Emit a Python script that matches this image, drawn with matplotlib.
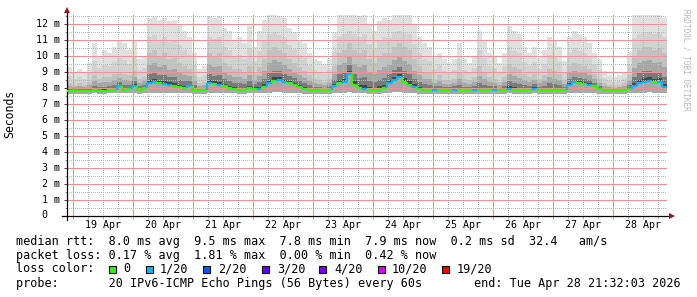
import numpy as np
import matplotlib
matplotlib.use("Agg")
import matplotlib.pyplot as plt
from matplotlib.patches import Rectangle

# ---------------- data (2-hour bins, hours relative to 19 Apr 00:00) ----------------
bin_start = -2.47
bin_hours = 2.0

median_ms = [7.82, 7.82, 7.83, 7.82, 7.83, 7.85, 7.83, 7.84, 7.85, 7.86,
             8.10, 7.90, 7.95, 8.15, 7.90, 8.00, 8.30, 8.35, 8.30, 8.25,
             8.20, 8.15, 8.05, 8.00, 8.10, 7.90, 7.85, 7.85, 8.30, 8.25,
             8.20, 8.10, 8.00, 7.95, 7.90, 7.90, 8.00, 7.95, 7.95, 8.05,
             8.30, 8.45, 8.50, 8.35, 8.30, 8.20, 8.05, 7.95, 7.90, 7.85,
             7.85, 7.85, 7.90, 8.10, 8.30, 8.35, 8.90, 8.20, 8.00, 7.95,
             7.90, 7.85, 7.90, 8.00, 8.30, 8.50, 8.70, 8.40, 8.20, 8.05,
             7.95, 7.90, 7.85, 7.90, 7.85, 7.85, 7.85, 7.90, 7.85, 7.85,
             7.85, 7.90, 7.85, 7.85, 7.85, 7.90, 7.85, 7.85, 7.95, 7.90,
             7.85, 7.85, 7.85, 7.95, 7.85, 7.85, 7.90, 7.85, 7.85, 7.90,
             8.20, 8.35, 8.30, 8.25, 8.20, 8.10, 7.95, 7.85, 7.85, 7.85,
             7.85, 7.85, 7.95, 8.15, 8.30, 8.40, 8.45, 8.35, 8.40, 8.05]

loss_idx = [0, 0, 0, 0, 0, 0, 0, 0, 0, 0,
            1, 0, 0, 1, 0, 0, 1, 1, 0, 1,
            1, 0, 0, 0, 1, 0, 0, 0, 1, 0,
            1, 0, 0, 0, 0, 0, 0, 0, 1, 0,
            1, 0, 1, 1, 0, 0, 0, 0, 0, 0,
            0, 0, 0, 1, 0, 1, 1, 0, 0, 1,
            0, 0, 0, 0, 1, 1, 1, 0, 0, 1,
            0, 0, 0, 1, 0, 0, 0, 1, 0, 0,
            0, 1, 0, 0, 0, 1, 0, 0, 1, 0,
            0, 0, 0, 1, 0, 0, 0, 0, 0, 0,
            1, 1, 0, 0, 1, 0, 0, 0, 0, 0,
            0, 0, 0, 1, 1, 1, 1, 0, 1, 1]

smoke_min = [7.64, 7.65, 7.65, 7.64, 7.65, 7.66, 7.65, 7.65, 7.66, 7.66,
             7.68, 7.66, 7.66, 7.68, 7.65, 7.66, 7.70, 7.72, 7.70, 7.70,
             7.70, 7.68, 7.67, 7.66, 7.68, 7.65, 7.64, 7.65, 7.70, 7.70,
             7.70, 7.68, 7.66, 7.66, 7.65, 7.65, 7.66, 7.66, 7.66, 7.68,
             7.72, 7.74, 7.75, 7.72, 7.70, 7.68, 7.66, 7.65, 7.65, 7.64,
             7.64, 7.64, 7.65, 7.68, 7.70, 7.72, 7.75, 7.70, 7.66, 7.66,
             7.65, 7.64, 7.65, 7.66, 7.70, 7.74, 7.76, 7.72, 7.70, 7.66,
             7.65, 7.65, 7.64, 7.65, 7.64, 7.64, 7.64, 7.65, 7.64, 7.64,
             7.64, 7.65, 7.64, 7.64, 7.64, 7.65, 7.64, 7.64, 7.66, 7.65,
             7.64, 7.64, 7.64, 7.66, 7.64, 7.64, 7.65, 7.64, 7.64, 7.65,
             7.70, 7.72, 7.70, 7.70, 7.68, 7.66, 7.65, 7.64, 7.64, 7.64,
             7.64, 7.64, 7.66, 7.68, 7.70, 7.72, 7.74, 7.72, 7.72, 7.68]

smoke_q75 = [8.30, 8.20, 8.30, 8.20, 8.40, 8.80, 8.60, 8.70, 8.70, 8.90,
             9.00, 8.90, 8.80, 9.10, 8.60, 8.70, 10.2, 10.4, 10.0, 10.2,
             9.80, 9.90, 9.60, 9.40, 9.20, 8.80, 8.30, 8.40, 10.2, 10.0,
             10.2, 9.60, 9.40, 9.20, 9.20, 9.00, 9.40, 8.90, 9.30, 9.80,
             10.4, 10.6, 10.4, 10.2, 9.80, 9.60, 9.30, 9.10, 8.80, 8.60,
             8.50, 8.40, 8.60, 9.40, 10.2, 10.4, 10.8, 10.4, 10.2, 10.4,
             9.80, 9.60, 10.0, 10.2, 10.2, 10.6, 10.8, 10.6, 10.4, 9.80,
             9.40, 9.00, 9.00, 8.60, 8.80, 8.50, 8.50, 8.60, 9.00, 8.60,
             8.50, 8.70, 9.40, 9.00, 8.70, 8.60, 8.40, 8.70, 9.50, 9.30,
             9.20, 8.90, 8.70, 8.90, 8.60, 8.80, 9.20, 9.10, 8.90, 8.50,
             9.40, 9.60, 9.50, 9.40, 9.20, 8.90, 8.60, 8.30, 8.20, 8.10,
             8.20, 8.30, 8.80, 10.0, 10.4, 10.6, 10.6, 10.4, 10.5, 10.2]

smoke_max = [9.3, 9.0, 9.2, 9.0, 9.6, 10.8, 10.0, 10.4, 10.2, 10.6,
             11.0, 10.8, 10.4, 11.0, 9.8, 10.0, 12.4, 12.5, 12.3, 12.4,
             12.2, 12.3, 12.0, 11.6, 11.2, 10.2, 9.2, 9.4, 12.5, 12.4,
             12.5, 11.8, 11.6, 11.0, 11.2, 10.8, 11.9, 10.6, 11.6, 12.3,
             12.6, 12.6, 12.5, 12.4, 11.8, 11.5, 11.0, 10.8, 10.2, 9.8,
             9.7, 9.5, 9.8, 11.5, 12.6, 12.6, 12.6, 12.6, 12.5, 12.6,
             12.0, 11.6, 12.2, 12.4, 12.3, 12.6, 12.6, 12.6, 12.6, 12.0,
             11.2, 10.8, 10.6, 9.9, 10.2, 9.8, 9.6, 9.8, 10.8, 9.8,
             9.6, 10.0, 11.6, 11.0, 10.2, 10.0, 9.6, 10.2, 11.9, 11.6,
             11.4, 10.6, 10.2, 10.6, 9.9, 10.4, 11.2, 11.0, 10.6, 9.7,
             11.2, 11.6, 11.4, 11.2, 10.8, 10.2, 9.8, 9.1, 8.8, 8.7,
             8.8, 9.0, 10.2, 12.6, 12.6, 12.6, 12.6, 12.6, 12.6, 12.4]

day_labels = ["19 Apr", "20 Apr", "21 Apr", "22 Apr", "23 Apr",
              "24 Apr", "25 Apr", "26 Apr", "27 Apr", "28 Apr"]
y_tick_values = list(range(0, 13))
loss_names = ["0", "1/20", "2/20", "3/20", "4/20", "10/20", "19/20"]
loss_colors = ["#26ff00", "#00b8ff", "#0059ff", "#5e00ff", "#7e00ff", "#dd00ff", "#ff0000"]

legend_lines = [
    "median rtt:  8.0 ms avg  9.5 ms max  7.8 ms min  7.9 ms now  0.2 ms sd  32.4   am/s",
    "packet loss: 0.17 % avg  1.81 % max  0.00 % min  0.42 % now",
    "loss color:",
    "probe:       20 IPv6-ICMP Echo Pings (56 Bytes) every 60s",
]
end_text = "end: Tue Apr 28 21:32:03 2026"

# ---------------- figure ----------------
W, H = 697, 297
fig = plt.figure(figsize=(W / 100, H / 100), dpi=100)
fig.patch.set_facecolor("white")
x0, x1 = 67, 667
y_bot, y_top = 215.5, 14
ax = fig.add_axes([x0 / W, (H - y_bot) / H, (x1 - x0) / W, (y_bot - y_top) / H])
ax.set_facecolor("white")

xmin, xmax = bin_start, bin_start + 240.0
ax.set_xlim(xmin, xmax)
ax.set_ylim(0, 12.65)

n = len(median_ms)
edges = bin_start + bin_hours * np.arange(n + 1)
med = np.array(median_ms)
lo = np.array(smoke_min)
q75 = np.array(smoke_q75)
hi = np.array(smoke_max)


def sfill(bottom, top, color):
    ax.fill_between(edges, np.append(bottom, bottom[-1]), np.append(top, top[-1]),
                    step="post", color=color, linewidth=0, zorder=1)


# smoke layers (light -> dark, towards median)
sfill(lo, hi, "#e0e0e0")
sfill(lo, q75 + 0.45 * (hi - q75), "#d2d2d2")
sfill(lo, q75, "#c2c2c2")
sfill(lo, med + 0.6 * (q75 - med), "#a6a6a6")
sfill(lo, med + 0.3 * (q75 - med), "#7a7a7a")
sfill(lo, med + 0.1 * (q75 - med), "#454545")
sfill(lo, med, "#a8a8a8")

# median line coloured by loss
cols = [loss_colors[i] for i in loss_idx]
ax.hlines(med, edges[:-1], edges[1:], colors=cols, linewidth=1.6, zorder=6.2)
ax.vlines(edges[1:-1], med[:-1], med[1:], colors=cols[1:], linewidth=1.6, zorder=6.2)

# grid
ax.set_xticks(np.arange(0, 240, 24))
ax.set_xticks(np.arange(0, 240, 6), minor=True)
ax.set_yticks(y_tick_values)
ax.set_yticks(np.arange(0, 12.6, 0.5), minor=True)
ax.set_axisbelow(False)
ax.grid(which="minor", color="#b8b8b8", linestyle=(0, (1, 2)), linewidth=0.72, zorder=5,
        antialiased=False)
ax.grid(which="major", color="#f49090", linestyle=(0, (1, 1)), linewidth=0.72, zorder=5.5,
        antialiased=False)
ax.tick_params(which="both", labelbottom=False, labelleft=False)
ax.tick_params(axis="y", which="major", length=2.5, width=0.7, color="#404040", direction="out")
ax.tick_params(axis="y", which="minor", length=1.5, width=0.7, color="#909090", direction="out")
ax.tick_params(axis="x", which="major", length=2.5, width=0.7, color="#f08080", direction="out")
ax.tick_params(axis="x", which="minor", length=2.0, width=0.7, color="#b0b0b0", direction="out")
for s in ax.spines.values():
    s.set_visible(False)

# axis lines with arrows
px_x = 1.0 / (x1 - x0)
px_y = 1.0 / (y_bot - y_top)
ax.plot([-5 * px_x, 1 + 4 * px_x], [0, 0], color="black", lw=0.9, transform=ax.transAxes,
        clip_on=False, zorder=6)
ax.plot([0, 0], [-4 * px_y, 1 + 2 * px_y], color="black", lw=0.9, transform=ax.transAxes,
        clip_on=False, zorder=6)
ax.plot([1 + 5 * px_x], [0], marker=">", markersize=4, color="#8b1a1a", transform=ax.transAxes,
        clip_on=False, zorder=7, markeredgewidth=0)
ax.plot([0], [1 + 4 * px_y], marker="^", markersize=4, color="#8b1a1a", transform=ax.transAxes,
        clip_on=False, zorder=7, markeredgewidth=0)

mono = "DejaVu Sans Mono"
# y tick labels
ytr = ax.get_yaxis_transform()
for v in y_tick_values:
    lab = "%2d m" % v if v > 0 else " 0"
    ax.text((36 - x0) / (x1 - x0), v, lab, transform=ytr, ha="left", va="center",
            family=mono, fontsize=7.2, color="#000000")
# x tick labels (noon of each day)
xtr = ax.get_xaxis_transform()
for i, lab in enumerate(day_labels):
    ax.text(12 + 24 * i, -(225.5 - y_bot) * px_y, lab, transform=xtr, ha="center", va="center",
            family=mono, fontsize=7.2, color="#000000")

# y label
fig.text(10 / W, 1 - 114 / H, "Seconds", rotation=90, ha="center", va="center",
         family=mono, fontsize=8.3, color="#000000")
# watermark
fig.text(686 / W, 1 - 60 / H, "RRDTOOL / TOBI OETIKER", rotation=270, ha="center", va="center",
         family=mono, fontsize=5.6, color="#b8b8b8")

# legend text
ys = [241.5, 255.5, 269.0, 283.0]
for s, yy in zip(legend_lines, ys):
    fig.text(16 / W, 1 - yy / H, s, ha="left", va="center", family=mono, fontsize=8.5, color="#000000")
fig.text(681 / W, 1 - ys[3] / H, end_text, ha="right", va="center", family=mono, fontsize=8.5,
         color="#000000")

# loss colour boxes
box_x = [109, 146, 203, 262, 319, 378, 442]
txt_x = [123, 160, 218, 277, 334, 392, 457]
for bx, tx, name, c in zip(box_x, txt_x, loss_names, loss_colors):
    fig.add_artist(Rectangle((bx / W, 1 - 272.5 / H), 7 / W, 7 / H, transform=fig.transFigure,
                             facecolor=c, edgecolor="black", linewidth=0.8))
    fig.text(tx / W, 1 - ys[2] / H, name, ha="left", va="center", family=mono, fontsize=8.5,
             color="#000000")

fig.savefig("out.png", dpi=100, facecolor="white")
